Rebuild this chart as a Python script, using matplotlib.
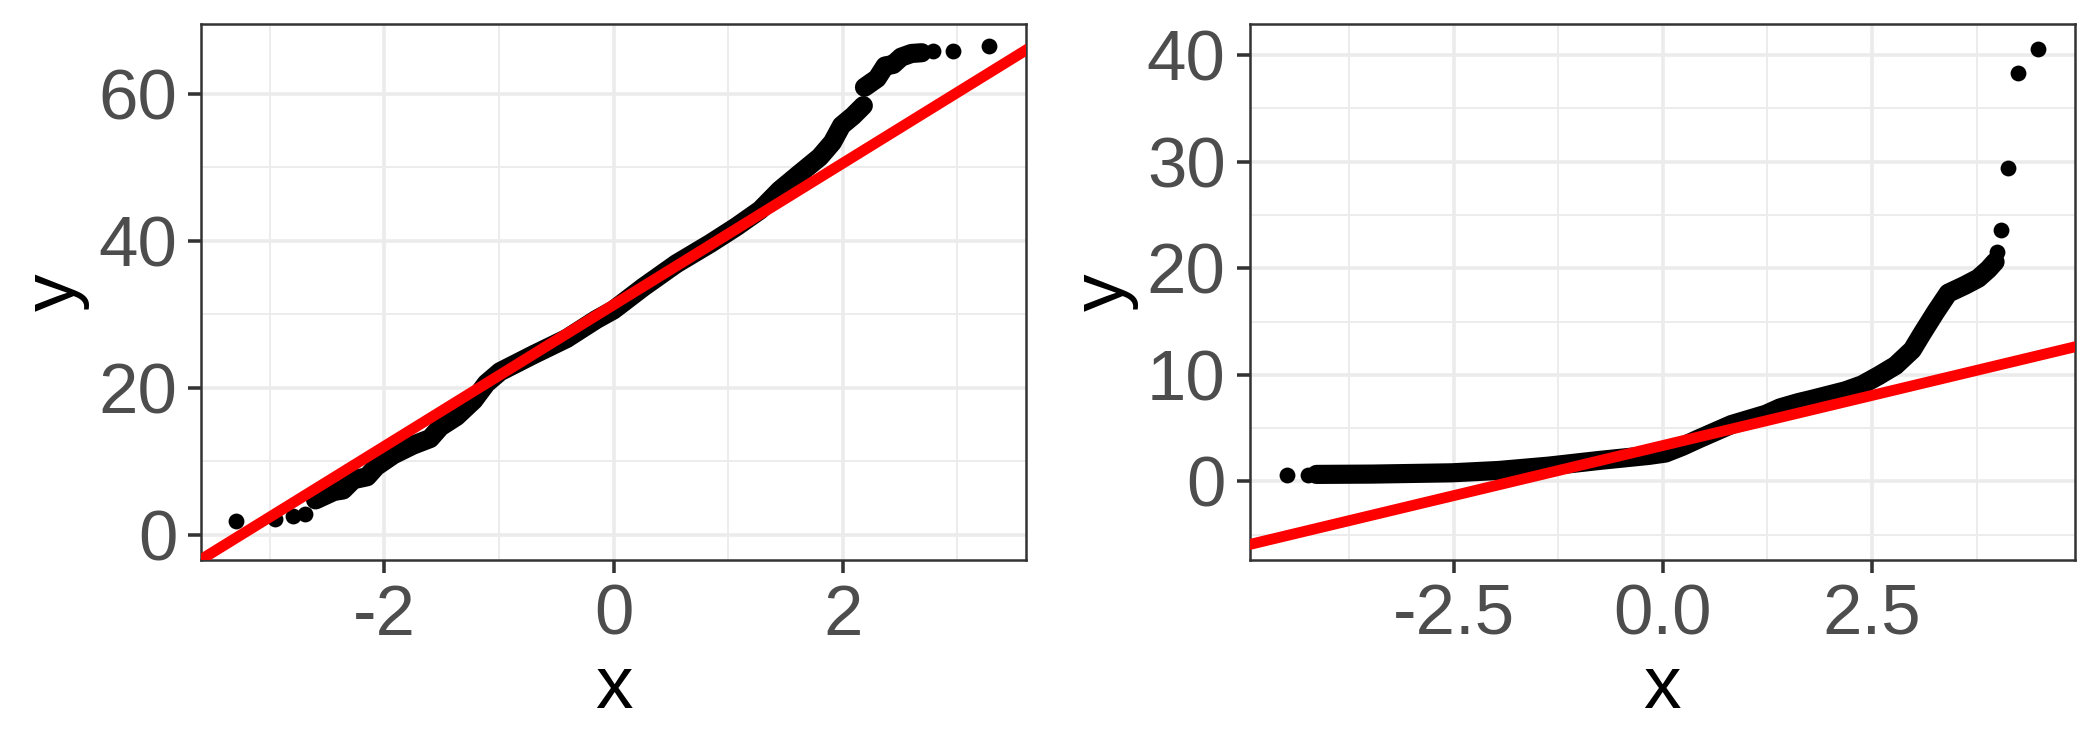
import numpy as np
import matplotlib
matplotlib.use('Agg')
from matplotlib import pyplot as plt
from matplotlib.ticker import MultipleLocator

# values (theoretical quantile x, sample y)
# left panel: dense part of the curve
left_band_x = [-2.60, -2.44, -2.36, -2.27, -2.15, -2.07, -1.92, -1.75, -1.60, -1.51,
               -1.37, -1.22, -1.11, -0.99, -0.70, -0.41, -0.15, 0.0, 0.26, 0.55,
               0.84, 1.07, 1.28, 1.45, 1.62, 1.80, 1.91, 1.99, 2.09, 2.18]
left_band_y = [4.75, 5.9, 6.1, 7.5, 7.9, 9.3, 10.9, 12.2, 13.1, 14.7,
               16.1, 18.3, 20.6, 22.2, 24.5, 26.7, 29.3, 30.6, 33.7, 36.9,
               39.6, 41.9, 44.2, 46.9, 49.1, 51.4, 53.4, 55.7, 57.0, 58.4]
left_upper_x = [2.19, 2.30, 2.37, 2.44, 2.51, 2.60, 2.69]
left_upper_y = [60.9, 62.1, 63.8, 64.0, 65.0, 65.5, 65.6]
left_single_x = [-3.29, -2.95, -2.80, -2.69, 2.79, 2.96, 3.28]
left_single_y = [1.9, 2.1, 2.6, 2.8, 65.9, 65.9, 66.5]
left_line = (31.3, 9.63)     # intercept, slope

# right panel
right_band_x = [-4.14, -3.47, -2.52, -1.96, -1.36, -0.76, -0.17, 0.03, 0.23, 0.43,
                0.82, 1.23, 1.40, 1.62, 1.78, 2.18, 2.38, 2.58, 2.78, 2.98,
                3.10, 3.26, 3.41, 3.61, 3.77, 3.89, 3.97]
right_band_y = [0.66, 0.69, 0.81, 1.03, 1.44, 1.97, 2.44, 2.66, 3.28, 4.0,
                5.34, 6.3, 6.9, 7.4, 7.7, 8.5, 9.06, 9.93, 10.87, 12.34,
                13.9, 15.9, 17.66, 18.4, 19.06, 19.9, 20.6]
right_single_x = [-4.49, -4.24, 3.99, 4.04, 4.12, 4.24, 4.48]
right_single_y = [0.63, 0.63, 21.5, 23.6, 29.4, 38.3, 40.6]
right_line = (3.37, 1.88)

plt.rcParams['font.family'] = ['Liberation Sans', 'DejaVu Sans']

DOT = 3.8    # marker diameter in points
BAND = 4.6   # thickness of the overplotted dense part


def style_axes(ax, xlim, ylim, xmaj, ymaj):
    ax.set_xlim(*xlim)
    ax.set_ylim(*ylim)
    ax.xaxis.set_major_locator(MultipleLocator(xmaj))
    ax.xaxis.set_minor_locator(MultipleLocator(xmaj / 2))
    ax.yaxis.set_major_locator(MultipleLocator(ymaj))
    ax.yaxis.set_minor_locator(MultipleLocator(ymaj / 2))
    ax.grid(which='major', color='#EBEBEB', lw=0.85, zorder=0)
    ax.grid(which='minor', color='#EBEBEB', lw=0.45, zorder=0)
    ax.set_axisbelow(True)
    for s in ax.spines.values():
        s.set_color('#333333')
        s.set_linewidth(0.6)
    ax.tick_params(which='major', length=3.2, width=0.85, color='#333333',
                   labelsize=17, labelcolor='#4D4D4D', pad=2.5)
    ax.tick_params(which='minor', length=0)
    ax.set_xlabel('x', fontsize=18, color='black', labelpad=1)
    ax.set_ylabel('y', fontsize=18, color='black', labelpad=2)


def draw(ax, bx, by, ux, uy, sx, sy, line):
    ax.plot(bx, by, color='black', lw=BAND, solid_capstyle='round',
            solid_joinstyle='round', zorder=2)
    ax.plot(bx, by, 'o', color='black', ms=DOT, mew=0, zorder=2)
    if ux:
        ax.plot(ux, uy, color='black', lw=BAND, solid_capstyle='round',
                solid_joinstyle='round', zorder=2)
        ax.plot(ux, uy, 'o', color='black', ms=DOT, mew=0, zorder=2)
    ax.plot(sx, sy, 'o', color='black', ms=DOT, mew=0, zorder=2)
    ax.axline((0, line[0]), slope=line[1], color='#FF0000', lw=2.6, zorder=3)


fig = plt.figure(figsize=(7, 2.5), dpi=300)
ax1 = fig.add_axes([0.0957, 0.2536, 0.3929, 0.7143])
ax2 = fig.add_axes([0.5950, 0.2536, 0.3929, 0.7143])

draw(ax1, left_band_x, left_band_y, left_upper_x, left_upper_y,
     left_single_x, left_single_y, left_line)
style_axes(ax1, (-3.60, 3.60), (-3.4, 69.5), 2, 20)
ax1.set_xticks([-2, 0, 2])
ax1.set_xticklabels(['-2', '0', '2'])

draw(ax2, right_band_x, right_band_y, [], [],
     right_single_x, right_single_y, right_line)
style_axes(ax2, (-4.94, 4.92), (-7.35, 42.9), 2.5, 10)
ax2.set_xticks([-2.5, 0, 2.5])
ax2.set_xticklabels(['-2.5', '0.0', '2.5'])

fig.savefig('out.png', dpi=300)
